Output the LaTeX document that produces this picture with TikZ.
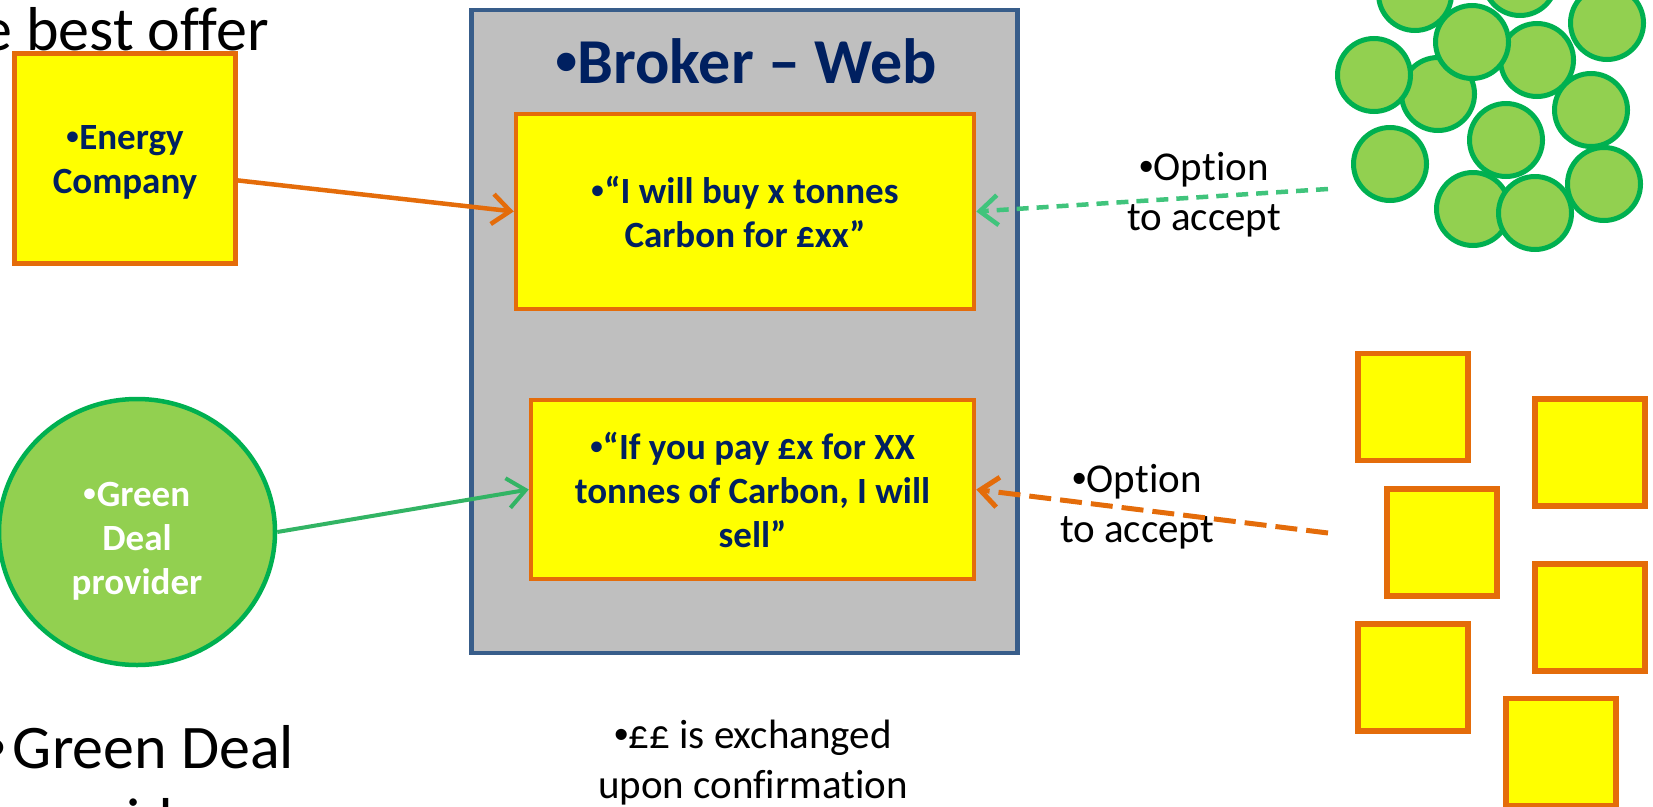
\documentclass[tikz,border=0pt]{standalone}
\usepackage{fontspec}
\setmainfont{Carlito}[Ligatures=NoCommon]
\newfontfamily\bulletfont{Liberation Sans}
\newcommand\bul{{\bulletfont •}}
\usetikzlibrary{arrows.meta,shapes.geometric}
\definecolor{navy}{RGB}{0,32,96}
\definecolor{boxorange}{RGB}{228,108,10}
\definecolor{boxyellow}{RGB}{255,255,0}
\definecolor{brokergray}{RGB}{191,191,191}
\definecolor{brokerblue}{RGB}{56,93,138}
\definecolor{leafgreen}{RGB}{146,208,80}
\definecolor{ringgreen}{RGB}{0,176,80}
\definecolor{arrowgreen}{RGB}{50,180,100}
\begin{document}
\begin{tikzpicture}[x=1pt,y=-1pt,
  yellowbox/.style={rectangle, draw=boxorange, fill=boxyellow, line width=4.5pt, inner sep=0pt,
    font=\fontsize{37}{44}\selectfont\bfseries, text=navy, align=center},
  plaintext/.style={font=\fontsize{41}{50}\selectfont, text=black, align=center, inner sep=0pt},
  bigtext/.style={font=\fontsize{62}{73}\selectfont, text=black, align=left, inner sep=0pt},
  pea/.style={circle, draw=ringgreen, fill=leafgreen, line width=5pt, minimum size=73pt, inner sep=0pt},
  tile/.style={rectangle, draw=boxorange, fill=boxyellow, line width=5.5pt, minimum width=110pt, minimum height=107pt, inner sep=0pt},
  openarrow/.style={-{Straight Barb[length=18pt,width=30pt]}},
  orangeline/.style={draw=boxorange, line width=4.5pt},
  greenline/.style={draw=arrowgreen, line width=4pt},
  greendash/.style={draw=ringgreen!75!white, line width=4.5pt, dash pattern=on 12pt off 8pt},
  orangedash/.style={draw=boxorange, line width=5pt, dash pattern=on 22pt off 9pt}
]
\useasboundingbox (0,0) rectangle (1653,806);

% big texts (partially cut)
\node[bigtext, anchor=base west] (best) at (-19,50) {e best offer};
\node[bigtext, anchor=base west] (gdeal) at (-16,841) {\bul\hspace{7pt}Green Deal\\\phantom{\bul}\hspace{7pt}provider};

% left actors
\node[yellowbox, minimum width=221pt, minimum height=210pt] (energy) at (125,158.5)
  {\rule{0pt}{32pt}\bul Energy\\Company};
\node[ellipse, draw=ringgreen, fill=leafgreen, line width=4.5pt, minimum width=276pt, minimum height=266pt,
  inner sep=0pt, font=\fontsize{37}{44}\selectfont\bfseries, text=white, align=center] (gd) at (137,532)
  {\rule{0pt}{42pt}\bul Green\\Deal\\provider};

% broker
\node[rectangle, draw=brokerblue, fill=brokergray, line width=4.5pt, minimum width=546pt, minimum height=643pt,
  inner sep=0pt] (broker) at (744.5,331.5) {};
\node[anchor=base, inner sep=0pt, font=\fontsize{64}{77}\selectfont\bfseries, text=navy] (title) at (746,83)
  {\bul Broker – Web};
\node[yellowbox, minimum width=458pt, minimum height=195pt] (box1) at (745,211.5)
  {\bul“I will buy x tonnes\\Carbon for £xx”};
\node[yellowbox, minimum width=443pt, minimum height=179pt] (box2) at (752.5,489.5)
  {\bul“If you pay £x for XX\\tonnes of Carbon, I will\\sell”};

% labels
\node[plaintext, anchor=base] (opt1) at (1204,230) {\bul Option\\to accept};
\node[plaintext, anchor=base] (opt2) at (1137,542) {\bul Option\\to accept};
\node[plaintext, anchor=base] (exch) at (753,798) {\bul££ is exchanged\\upon confirmation};

% pea cluster
\foreach \n/\cx/\cy in {p1/1415/-6, p2/1520/-21, p7/1438/94, p6/1374/75, p5/1537/60, p4/1472/42,
  p3/1607/23, p8/1591/110, p11/1604/184, p9/1506/140, p10/1390/164, p12/1473/209, p13/1535/213}
  \node[pea] (\n) at (\cx,\cy) {};

% tiles
\foreach \n/\cx/\cy in {t1/1413/407, t2/1590/452.5, t3/1442/542.5, t4/1590/617.5, t5/1413/677.5, t6/1561/752}
  \node[tile] (\n) at (\cx,\cy) {};

% connectors
\coordinate (gstart) at (1328,189);
\coordinate (ostart) at (1328,533);
\draw[orangeline, openarrow] (energy.-11.5) -- (box1.west);
\draw[greenline, openarrow] (gd.east) -- (box2.west);
\draw[greendash, openarrow] (gstart) -- (box1.east);
\draw[orangedash, openarrow] (ostart) -- (box2.east);
\end{tikzpicture}
\end{document}
